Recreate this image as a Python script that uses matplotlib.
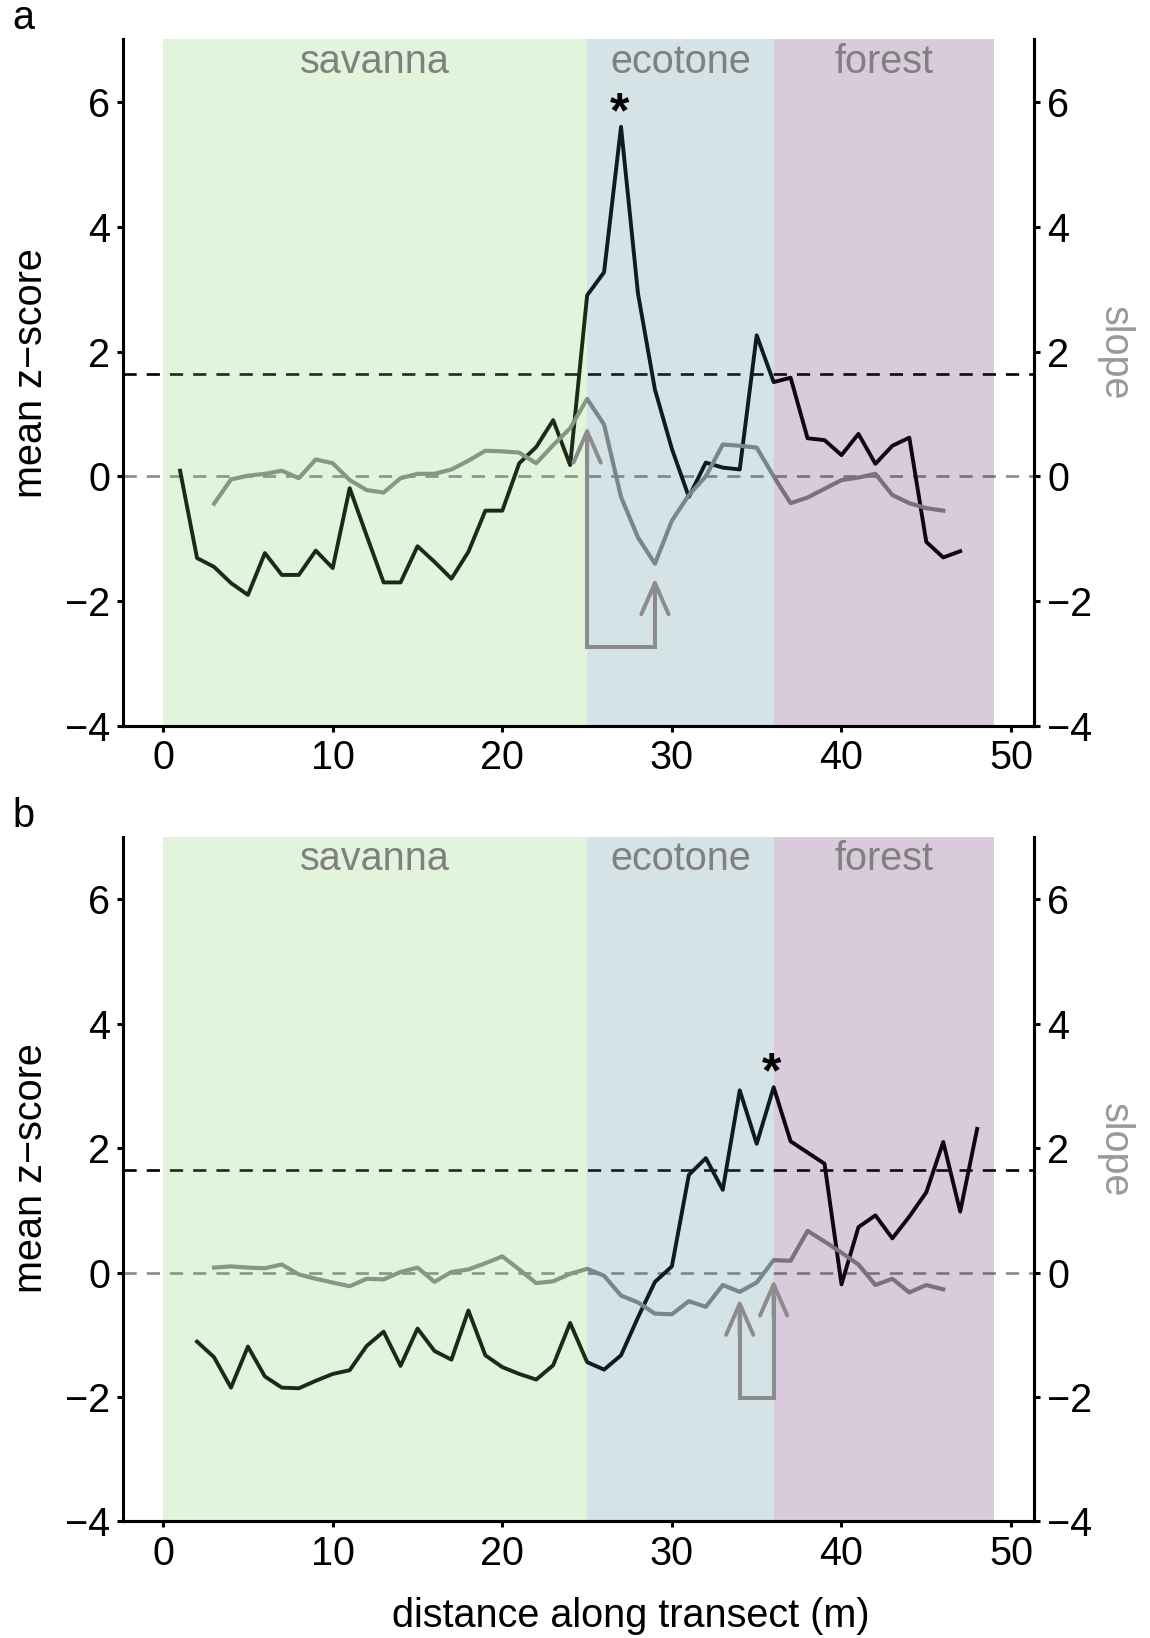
import numpy as np
import matplotlib.pyplot as plt

plt.rcParams['font.family'] = ['Liberation Sans', 'DejaVu Sans']
plt.rcParams['font.size'] = 28.5

# zones along the transect
zone_names = ['savanna', 'ecotone', 'forest']
zone_edges = [0, 25, 36, 49]
zone_colors = ['#7bcd60', '#408096', '#571360']

# panel a
xa_z = np.arange(1, 48)
za = [0.09, -1.31, -1.45, -1.71, -1.90, -1.23, -1.58, -1.58, -1.19, -1.47,
      -0.19, -0.95, -1.70, -1.70, -1.12, -1.37, -1.64, -1.21, -0.55, -0.55,
      0.21, 0.47, 0.90, 0.18, 2.90, 3.27, 5.60, 2.93, 1.39, 0.44,
      -0.33, 0.22, 0.14, 0.11, 2.26, 1.51, 1.58, 0.61, 0.58, 0.34,
      0.68, 0.20, 0.49, 0.62, -1.05, -1.30, -1.20]
xa_s = np.arange(3, 47)
sa = [-0.44, -0.05, 0.01, 0.04, 0.09, -0.03, 0.27, 0.21, -0.06, -0.22,
      -0.26, -0.03, 0.04, 0.04, 0.11, 0.25, 0.41, 0.40, 0.38, 0.21,
      0.50, 0.77, 1.24, 0.83, -0.33, -0.98, -1.40, -0.71, -0.30, 0.00,
      0.51, 0.49, 0.46, 0.00, -0.43, -0.34, -0.20, -0.06, -0.02, 0.04,
      -0.30, -0.43, -0.51, -0.55]
peak_a = 27
arrows_a_x = [25, 29]
arrows_a_tip = [0.80, -1.63]
bracket_a = -2.74

# panel b
xb_z = np.arange(2, 49)
zb = [-1.11, -1.36, -1.85, -1.19, -1.67, -1.85, -1.86, -1.74, -1.63, -1.57,
      -1.18, -0.95, -1.50, -0.90, -1.26, -1.40, -0.61, -1.33, -1.52, -1.63,
      -1.72, -1.49, -0.81, -1.44, -1.56, -1.33, -0.72, -0.15, 0.10, 1.57,
      1.84, 1.33, 2.93, 2.07, 2.98, 2.11, 1.93, 1.75, -0.19, 0.73,
      0.92, 0.55, 0.90, 1.29, 2.10, 0.98, 2.31]
xb_s = np.arange(3, 47)
sb = [0.08, 0.10, 0.08, 0.07, 0.13, -0.03, -0.10, -0.16, -0.22, -0.10,
      -0.11, 0.01, 0.08, -0.15, 0.01, 0.05, 0.15, 0.26, 0.05, -0.17,
      -0.14, -0.02, 0.06, -0.05, -0.37, -0.48, -0.66, -0.67, -0.46, -0.55,
      -0.20, -0.31, -0.16, 0.20, 0.19, 0.67, 0.50, 0.32, 0.13, -0.20,
      -0.10, -0.32, -0.20, -0.27]
peak_b = 36
arrows_b_x = [34, 36]
arrows_b_tip = [-0.42, -0.11]
bracket_b = -2.02

threshold = 1.645
yticks = [-4, -2, 0, 2, 4, 6]
xticks = [0, 10, 20, 30, 40, 50]
grey = '#8a8a8a'


def panel(ax, xz, z, xs, s, peak, ax_x, ax_tip, base):
    ax.axhline(threshold, color='black', lw=1.9, ls=(0, (5, 3.8)), zorder=1)
    ax.axhline(0, color=grey, lw=1.9, ls=(0, (5, 3.8)), zorder=1)
    ax.plot(xz, z, color='black', lw=2.8, zorder=2)
    ax.plot(xs, s, color=grey, lw=3.0, zorder=2)
    # coloured zones laid over the lines so they tint them
    for i in range(3):
        ax.axvspan(zone_edges[i], zone_edges[i + 1], color=zone_colors[i],
                   alpha=0.22, lw=0, zorder=3)
        ax.text((zone_edges[i] + zone_edges[i + 1]) / 2, 6.47, zone_names[i],
                ha='center', va='baseline', color='#808080', zorder=4)
    zpk = z[list(xz).index(peak)]
    ax.text(peak - 0.1, zpk, '*', ha='center', va='baseline',
            fontsize=36, fontweight='bold', zorder=5)
    # bracket with arrows
    ax.plot([ax_x[0], ax_x[0], ax_x[1], ax_x[1]],
            [ax_tip[0] - 0.3, base, base, ax_tip[1] - 0.3],
            color='#8c8c8c', lw=2.9, solid_joinstyle='miter', zorder=5)
    for xx, tt in zip(ax_x, ax_tip):
        ax.annotate('', xy=(xx, tt), xytext=(xx, tt - 0.6),
                    arrowprops=dict(arrowstyle='->,head_length=0.8,head_width=0.35',
                                    color='#8c8c8c', lw=2.9, mutation_scale=28,
                                    shrinkA=0, shrinkB=0), zorder=5)
    ax.set_xlim(-2.35, 51.35)
    ax.set_ylim(-4, 7)
    ax.set_xticks(xticks)
    ax.set_yticks(yticks)
    ax.spines['top'].set_visible(False)
    for sp in ['left', 'bottom', 'right']:
        ax.spines[sp].set_linewidth(2.2)
    ax.tick_params(width=2.2, length=4.5, pad=5)
    ax2 = ax.twinx()
    ax2.set_ylim(-4, 7)
    ax2.set_yticks(yticks)
    ax2.spines['top'].set_visible(False)
    for sp in ['left', 'bottom', 'right']:
        ax2.spines[sp].set_linewidth(2.2)
    ax2.tick_params(width=2.2, length=4.5, pad=5)


fig = plt.figure(figsize=(11.5, 16.38), dpi=100)
axa = fig.add_axes([0.1072, 0.5568, 0.7919, 0.4191])
axb = fig.add_axes([0.1072, 0.0712, 0.7919, 0.4177])

panel(axa, xa_z, za, xa_s, sa, peak_a, arrows_a_x, arrows_a_tip, bracket_a)
panel(axb, xb_z, zb, xb_s, sb, peak_b, arrows_b_x, arrows_b_tip, bracket_b)

fig.text(0.011, 0.9823, 'a', ha='left', va='baseline')
fig.text(0.011, 0.4951, 'b', ha='left', va='baseline')
fig.text(0.027, 0.7723, 'mean z\u2212score', rotation=90, ha='center', va='center')
fig.text(0.027, 0.2869, 'mean z\u2212score', rotation=90, ha='center', va='center')
fig.text(0.9696, 0.7845, 'slope', rotation=270, ha='center', va='center', color='#999999')
fig.text(0.9696, 0.2976, 'slope', rotation=270, ha='center', va='center', color='#999999')
fig.text(0.5487, 0.0065, 'distance along transect (m)', ha='center', va='baseline')

fig.savefig('out.png', dpi=100)
